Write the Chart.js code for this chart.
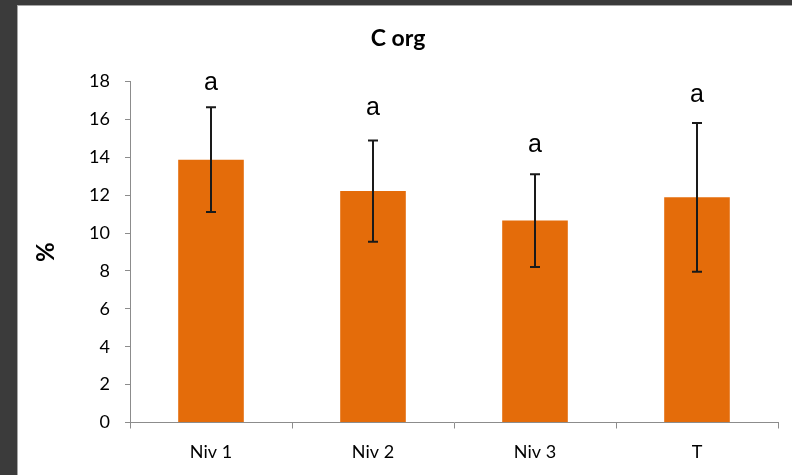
<!DOCTYPE html>
<html>
<head>
<meta charset="utf-8">
<script src="https://cdn.jsdelivr.net/npm/chart.js@4.4.1/dist/chart.umd.min.js"></script>
<style>
  html, body { margin: 0; padding: 0; background: #3b3b3b; width: 792px; height: 475px; overflow: hidden; }
  #panel { position: absolute; left: 17px; top: 5px; width: 800px; height: 500px; background: #ffffff; border: 1px solid #a6a6a6; }
  canvas { position: absolute; left: 0; top: 0; }
</style>
</head>
<body>
<div id="panel"><canvas id="c" width="774" height="469"></canvas></div>
<script>
// Organic carbon (%) by level, mean with standard deviation
const categories = ['Niv 1', 'Niv 2', 'Niv 3', 'T'];
const means = [13.88, 12.22, 10.66, 11.89];
const sdev = [2.77, 2.67, 2.45, 3.93];
const groupLetters = ['a', 'a', 'a', 'a'];
const yTicks = [0, 2, 4, 6, 8, 10, 12, 14, 16, 18];

const axisGray = '#8c8c8c';

// Error bars with caps, then the significance letters above them
const errorBarPlugin = {
  id: 'errorBars',
  afterDatasetsDraw(chart, args, opts) {
    const ctx = chart.ctx;
    const y = chart.scales.y;
    const meta = chart.getDatasetMeta(0);
    ctx.save();
    meta.data.forEach((bar, i) => {
      const x = bar.x;
      const yTop = y.getPixelForValue(means[i] + sdev[i]);
      const yBot = y.getPixelForValue(means[i] - sdev[i]);
      ctx.strokeStyle = '#1a1a1a';
      ctx.lineWidth = 2;
      ctx.beginPath();
      ctx.moveTo(x, yTop); ctx.lineTo(x, yBot);
      ctx.moveTo(x - 5, yTop); ctx.lineTo(x + 5, yTop);
      ctx.moveTo(x - 5, yBot); ctx.lineTo(x + 5, yBot);
      ctx.stroke();

      ctx.fillStyle = '#000000';
      ctx.font = '25px "Liberation Sans", Arial, sans-serif';
      ctx.textAlign = 'center';
      ctx.textBaseline = 'alphabetic';
      ctx.fillText(groupLetters[i], x, yTop - opts.letterGap[i]);
    });
    ctx.restore();
  }
};

new Chart(document.getElementById('c'), {
  type: 'bar',
  data: {
    labels: categories,
    datasets: [{
      data: means,
      backgroundColor: '#e46c0a',
      borderWidth: 0,
      categoryPercentage: 1.0,
      barPercentage: 0.405
    }]
  },
  options: {
    responsive: false,
    animation: false,
    devicePixelRatio: 1,
    layout: { padding: { left: 0, right: 14, top: 0, bottom: 0 } },
    plugins: {
      legend: { display: false },
      tooltip: { enabled: false },
      title: {
        display: true,
        text: 'C org',
        color: '#000000',
        font: { family: 'Lato', size: 23, weight: 'bold', lineHeight: 1.2 },
        padding: { top: 19, bottom: 29 }
      },
      errorBars: { letterGap: [17, 25, 22, 21] }
    },
    scales: {
      x: {
        grid: { display: true, drawOnChartArea: false, drawTicks: true, tickLength: 6, color: axisGray, offset: true },
        border: { display: true, color: axisGray, width: 1 },
        ticks: { color: '#000000', padding: 13, font: { family: 'Lato', size: 18 } },
        afterFit(scale) { scale.height = 52.5; }
      },
      y: {
        min: 0,
        max: 18,
        afterBuildTicks(scale) { scale.ticks = yTicks.map(v => ({ value: v })); },
        grid: { display: true, drawOnChartArea: false, drawTicks: true, tickLength: 5, color: axisGray },
        border: { display: true, color: axisGray, width: 1 },
        ticks: { color: '#000000', padding: 15, font: { family: 'Lato', size: 18 } },
        title: {
          display: true,
          text: '%',
          color: '#000000',
          font: { family: 'Lato', size: 24, weight: 'bold', lineHeight: 1.2 },
          padding: { top: 14, bottom: 0 }
        },
        afterFit(scale) { scale.width = 112; }
      }
    }
  },
  plugins: [errorBarPlugin]
});
</script>
</body>
</html>
